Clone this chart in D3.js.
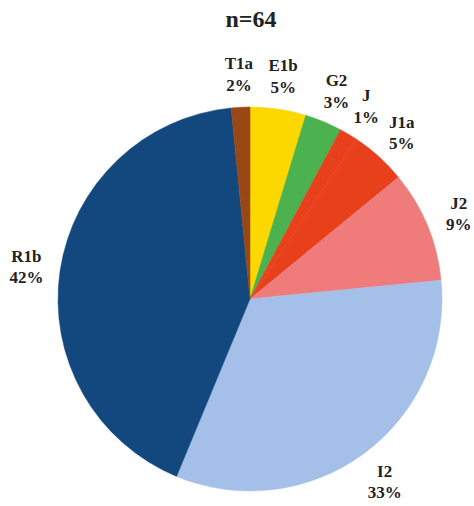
<!DOCTYPE html>
<html>
<head>
<meta charset="utf-8">
<script src="https://cdn.jsdelivr.net/npm/d3@7"></script>
<style>
  html, body { margin: 0; padding: 0; background: #fff; }
  svg { display: block; }
</style>
</head>
<body>
<svg id="chart" width="474" height="506"></svg>
<script>
// Data (clockwise from 12 o'clock)
const categories = ["E1b", "G2", "J", "J1a", "J2", "I2", "R1b", "T1a"];
const counts     = [3, 2, 1, 3, 6, 21, 27, 1];
const pctLabels  = ["5%", "3%", "1%", "5%", "9%", "33%", "42%", "2%"];
const colors     = ["#fcd800", "#4cb24f", "#e9401c", "#e9401c", "#f07b7b", "#a4c0e8", "#13487f", "#9a4716"];
const title      = "n=64";

const FONT = "'Liberation Serif', 'Times New Roman', Times, serif";
const cx = 250, cy = 299, R = 192, labelR = 226;

const svg = d3.select("#chart");

svg.append("text")
  .attr("x", 251).attr("y", 27)
  .attr("text-anchor", "middle")
  .attr("font-family", FONT)
  .attr("font-weight", "bold")
  .attr("font-size", 24)
  .attr("fill", "#222")
  .text(title);

const data = categories.map((c, i) => ({ cat: c, value: counts[i], pct: pctLabels[i], color: colors[i] }));

const pie = d3.pie().sort(null).value(d => d.value);
const arcs = pie(data);

const arc = d3.arc().innerRadius(0).outerRadius(R);
const labelArc = d3.arc().innerRadius(labelR).outerRadius(labelR);

const g = svg.append("g").attr("transform", `translate(${cx},${cy})`);

g.selectAll("path.slice")
  .data(arcs)
  .join("path")
  .attr("class", "slice")
  .attr("d", arc)
  .attr("fill", d => d.data.color)
  .attr("stroke", d => d.data.color)
  .attr("stroke-width", 0.5);

const lbl = g.selectAll("g.label")
  .data(arcs)
  .join("g")
  .attr("class", "label")
  .attr("transform", d => {
    const [x, y] = labelArc.centroid(d);
    return `translate(${x},${y})`;
  })
  .attr("font-family", FONT)
  .attr("font-weight", "bold")
  .attr("font-size", 17)
  .attr("fill", "#222")
  .attr("text-anchor", "middle");

lbl.append("text")
  .attr("y", -4)
  .text(d => d.data.cat);

lbl.append("text")
  .attr("y", 17.5)
  .text(d => d.data.pct);
</script>
</body>
</html>
